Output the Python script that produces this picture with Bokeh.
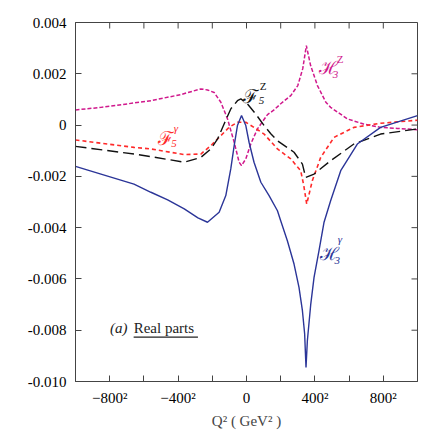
import math
from bokeh.plotting import figure
from bokeh.models import Range1d, FixedTicker, CustomJSTickFormatter, Label
from bokeh.embed import file_html
from bokeh.resources import INLINE

# x axis variable: signed sqrt(|Q^2|) in GeV; tick labels shown as squares
X_TICKS = [-800, -400, 0, 400, 800]
X_MINOR = [-600, -200, 200, 600]
X_LABELS = {-800: "\u2212800\u00b2", -400: "\u2212400\u00b2", 0: "0", 400: "400\u00b2", 800: "800\u00b2"}
Y_TICKS = [-0.010, -0.008, -0.006, -0.004, -0.002, 0.0, 0.002, 0.004]

# H3^gamma (solid blue)
q_h3g = [-1000, -851, -658, -559, -461, -364, -284, -228, -160, -121, -92, -72, -53, -29, -4, 15, 44, 84, 132, 181,
         200, 239, 278, 307, 327, 340, 348, 356, 376, 395, 424, 453, 492, 551, 648, 784, 1000]
v_h3g = [-0.00161, -0.00191, -0.0023, -0.00262, -0.00292, -0.00327, -0.00362, -0.00379, -0.0034, -0.00275, -0.00171,
         -0.0008, -0.00002, 0.00037, -0.00002, -0.00067, -0.00145, -0.00223, -0.00275, -0.00334,
         -0.00373, -0.00451, -0.00542, -0.00633, -0.00724, -0.00814, -0.00945, -0.0084, -0.00697,
         -0.00594, -0.0049, -0.0038, -0.00295, -0.00178, -0.00074, -0.00009, 0.00037]

# H3^Z (magenta dotted)
q_h3z = [-1000, -851, -559, -384, -267, -228, -189, -150, -111, -72, -43, -29, -4, 25, 64, 123, 159,
         200, 259, 300, 329, 350, 375, 415, 464, 492, 590, 685, 784, 882, 1000]
v_h3z = [0.00059, 0.00069, 0.00095, 0.00119, 0.00141, 0.00137, 0.00127, 0.00089, 0.00024, -0.00067,
         -0.00145, -0.00158, -0.00132, -0.00074, -0.00015, 0.00041, 0.00058,
         0.00083, 0.00115, 0.00154, 0.0022, 0.0031, 0.00232, 0.00154, 0.00089, 0.00069, 0.00024,
         0.00004, -0.00009, -0.00013, -0.00018]

# F5^gamma (red dotted)
q_f5g = [-1000, -658, -559, -366, -267, -208, -150, -102, -53, -4, 44, 103, 181, 259, 317, 335, 352,
         385, 434, 512, 628, 784, 1000]
v_f5g = [-0.00058, -0.00087, -0.00093, -0.00115, -0.00113, -0.0008, -0.00041, -0.00009, 0.00011, 0.00011,
         -0.00009, -0.00035, -0.00093, -0.00132, -0.00178, -0.00236, -0.00308,
         -0.00217, -0.00126, -0.00048, -0.00009, 0.00007, 0.00019]

# F5^Z (black long dashes)
q_f5z = [-1000, -658, -559, -364, -267, -208, -169, -131, -92, -53, -33, 6, 54, 103, 142, 181, 278, 327,
         346, 395, 492, 628, 784, 1000]
v_f5z = [-0.00083, -0.00113, -0.00123, -0.00145, -0.00126, -0.00093, -0.00054, 0.00004, 0.00063, 0.00095,
         0.00102, 0.00082, 0.00043, -0.00002, -0.00034, -0.00061, -0.00106, -0.00152,
         -0.00204, -0.00191, -0.00139, -0.00074, -0.00035, -0.00015]

X_MIN, X_MAX = -1000, 1000
Y_MIN, Y_MAX = -0.010, 0.004

BLUE = "#2b3598"
MAGENTA = "#d0188c"
RED = "#ff2a2a"
BLACK = "#111111"
AXC = "#444444"
SERIF = "'Liberation Serif'"
SCRIPT = "'DejaVu Serif'"

p = figure(width=434, height=434, output_backend="svg", toolbar_location=None,
           x_range=Range1d(X_MIN, X_MAX), y_range=Range1d(Y_MIN, Y_MAX),
           min_border_left=75, min_border_right=17, min_border_top=22, min_border_bottom=53)
p.xgrid.visible = False
p.ygrid.visible = False
p.outline_line_color = AXC
p.background_fill_color = "white"
p.border_fill_color = "white"

p.line(q_h3z, v_h3z, line_color=MAGENTA, line_width=1.5, line_dash="4 2")
p.line(q_f5g, v_f5g, line_color=RED, line_width=1.6, line_dash="4 3")
p.line(q_f5z, v_f5z, line_color=BLACK, line_width=1.4, line_dash="11 5")
p.line(q_h3g, v_h3g, line_color=BLUE, line_width=1.4)

def style(ax):
    ax.axis_line_color = AXC
    ax.major_tick_line_color = AXC
    ax.minor_tick_line_color = AXC
    ax.major_tick_in = 6
    ax.major_tick_out = 0
    ax.minor_tick_in = 6
    ax.minor_tick_out = 0
    ax.major_label_text_font = SERIF
    ax.major_label_text_color = "black"
    ax.major_label_text_font_size = "15px"

xa = p.xaxis[0]
xa.ticker = FixedTicker(ticks=X_TICKS, minor_ticks=X_MINOR)
xa.major_label_overrides = X_LABELS
style(xa)
xa.major_label_standoff = 8
xa.axis_label = "Q\u00b2 ( GeV\u00b2 )"
xa.axis_label_text_font = SERIF
xa.axis_label_text_font_style = "normal"
xa.axis_label_text_font_size = "15px"
xa.axis_label_standoff = 4

ya = p.yaxis[0]
ya.ticker = FixedTicker(ticks=Y_TICKS, minor_ticks=[])
ya.formatter = CustomJSTickFormatter(code="return Math.abs(tick) < 1e-12 ? '0' : tick.toFixed(3);")
style(ya)
ya.major_label_standoff = 9

# mirrored inward ticks on top and right edges (dash markers clipped by the frame)
top_x = X_TICKS + X_MINOR
p.scatter(top_x, [Y_MAX] * len(top_x), marker="dash", size=12, angle=math.pi / 2,
          line_color=AXC, line_width=1)
p.scatter([X_MAX] * len(Y_TICKS), Y_TICKS, marker="dash", size=12,
          line_color=AXC, line_width=1)

def lab(x, y, t, color, size, font=SERIF, style_="normal"):
    p.add_layout(Label(x=x, y=y, text=t, text_color=color, text_font_size=size,
                       text_font=font, text_font_style=style_, text_align="left",
                       text_baseline="alphabetic"))

# curve labels
lab(-515, -0.00050, "\u2131", RED, "19px", SCRIPT)
lab(-440, -0.00071, "5", RED, "11px", SERIF, "italic")
lab(-426, -0.00010, "\u03b3", RED, "11px", SERIF, "italic")

lab(-18, 0.00114, "\u2131", BLACK, "19px", SCRIPT)
lab(72, 0.00097, "5", BLACK, "11px", SERIF, "italic")
lab(78, 0.00154, "Z", BLACK, "11px", SERIF, "normal")

lab(424, 0.00226, "\u210b", MAGENTA, "18px", SCRIPT)
lab(504, 0.00199, "3", MAGENTA, "11px", SERIF, "italic")
lab(528, 0.00256, "Z", MAGENTA, "11px", SERIF, "normal")

lab(430, -0.00499, "\u210b", BLUE, "18px", SCRIPT)
lab(514, -0.00528, "3", BLUE, "11px", SERIF, "italic")
lab(533, -0.00446, "\u03b3", BLUE, "11px", SERIF, "italic")

lab(-798, -0.00791, "(a)", "#222222", "15px", SERIF, "italic")
lab(-660, -0.00791, "Real parts", "#222222", "15px", SERIF, "normal")
p.segment(x0=[-660], y0=[-0.00827], x1=[-284], y1=[-0.00827], line_color="#222222", line_width=1.2)

open("out.html", "w").write(file_html(p, INLINE))
